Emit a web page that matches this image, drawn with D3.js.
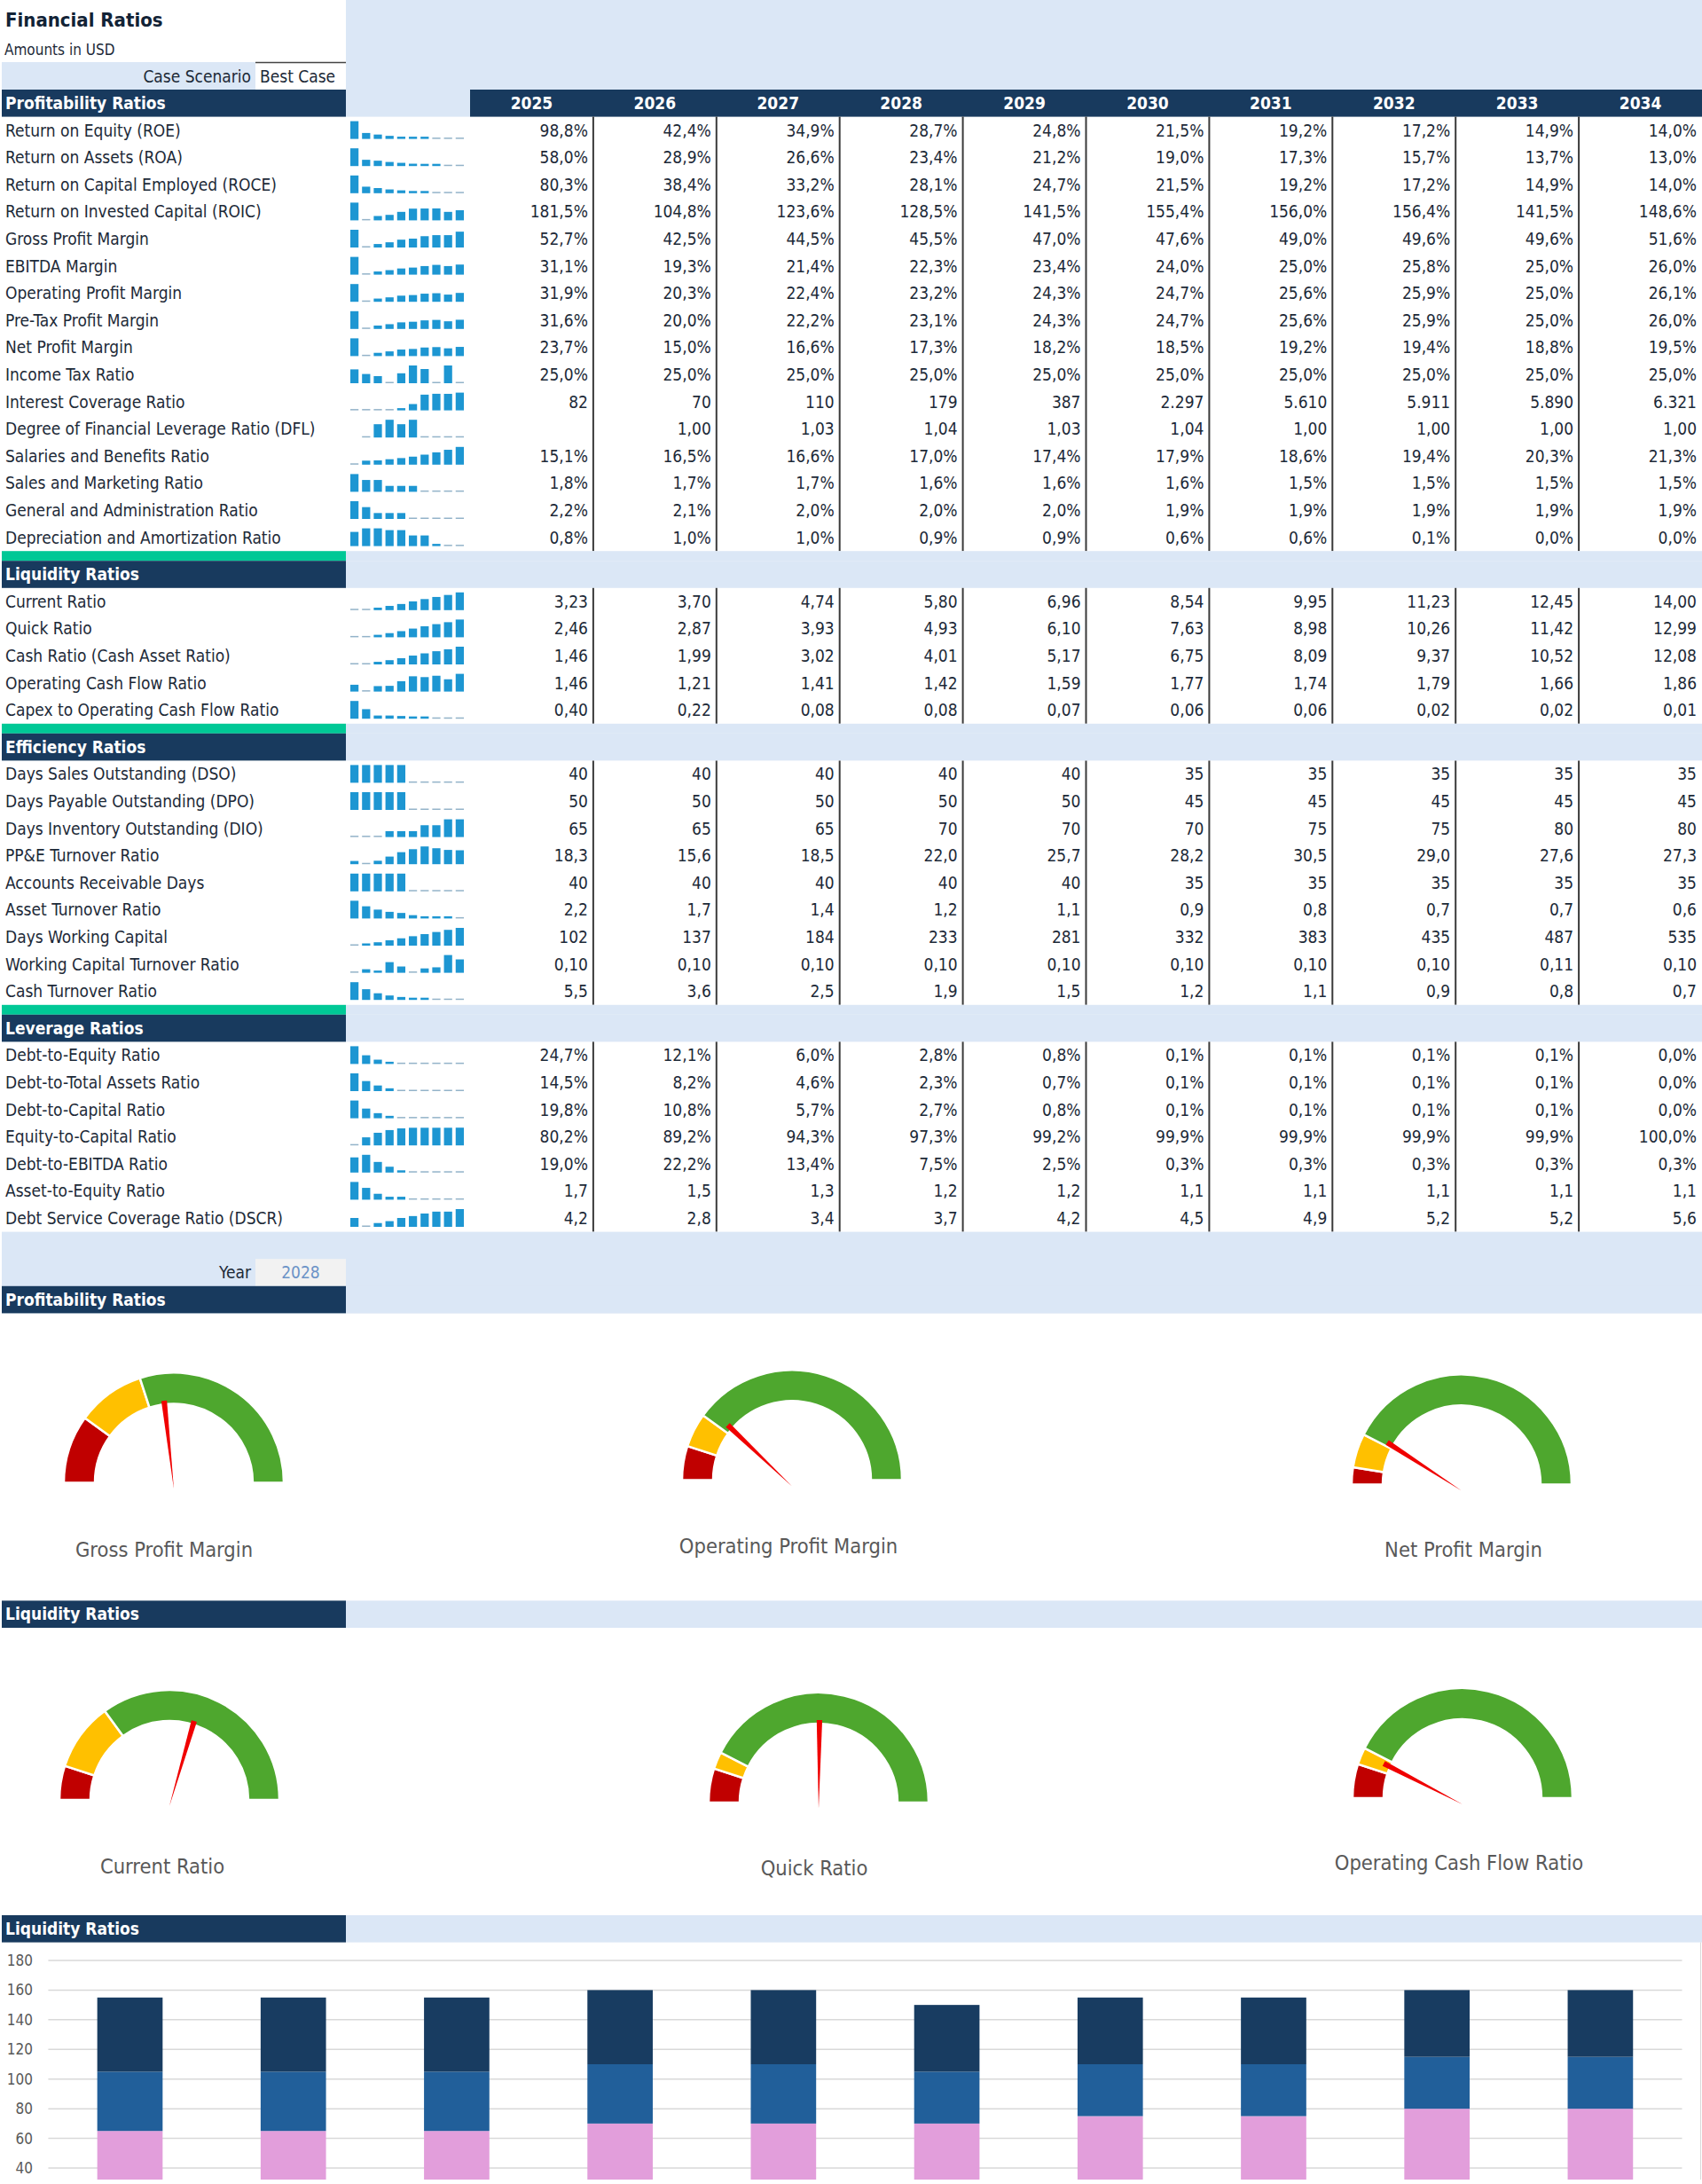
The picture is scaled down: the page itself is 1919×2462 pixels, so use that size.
<!DOCTYPE html>
<html>
<head>
<meta charset="utf-8">
<script src="https://cdn.jsdelivr.net/npm/d3@7"></script>
<style>
  body { margin: 0; background: #fff; overflow: hidden; }
  svg { display: block; font-family: 'Liberation Sans Narrow', 'Arial Narrow', 'DejaVu Sans Condensed', sans-serif; }
</style>
</head>
<body>
<div id="sheet"></div>
<script>
// ---- data ----
var years = [2025, 2026, 2027, 2028, 2029, 2030, 2031, 2032, 2033, 2034];
var selectedYear = 2028;
var caseScenario = "Best Case";

// profitability (percent values unless noted)
var roe = [98.8, 42.4, 34.9, 28.7, 24.8, 21.5, 19.2, 17.2, 14.9, 14.0];
var roa = [58.0, 28.9, 26.6, 23.4, 21.2, 19.0, 17.3, 15.7, 13.7, 13.0];
var roce = [80.3, 38.4, 33.2, 28.1, 24.7, 21.5, 19.2, 17.2, 14.9, 14.0];
var roic = [181.5, 104.8, 123.6, 128.5, 141.5, 155.4, 156.0, 156.4, 141.5, 148.6];
var grossMargin = [52.7, 42.5, 44.5, 45.5, 47.0, 47.6, 49.0, 49.6, 49.6, 51.6];
var ebitdaMargin = [31.1, 19.3, 21.4, 22.3, 23.4, 24.0, 25.0, 25.8, 25.0, 26.0];
var operatingMargin = [31.9, 20.3, 22.4, 23.2, 24.3, 24.7, 25.6, 25.9, 25.0, 26.1];
var preTaxMargin = [31.6, 20.0, 22.2, 23.1, 24.3, 24.7, 25.6, 25.9, 25.0, 26.0];
var netMargin = [23.7, 15.0, 16.6, 17.3, 18.2, 18.5, 19.2, 19.4, 18.8, 19.5];
var incomeTax = [25.029, 25.016, 25.010, 24.991, 25.018, 25.040, 25.030, 24.991, 25.040, 24.990];
var interestCoverage = [82, 70, 110, 179, 387, 2297, 5610, 5911, 5890, 6321];
var dfl = [null, 1.00, 1.03, 1.04, 1.03, 1.04, 1.00, 1.00, 1.00, 1.00];
var salaries = [15.1, 16.5, 16.6, 17.0, 17.4, 17.9, 18.6, 19.4, 20.3, 21.3];
var salesMarketing = [1.8, 1.7, 1.7, 1.6, 1.6, 1.6, 1.5, 1.5, 1.5, 1.5];
var generalAdmin = [2.2, 2.1, 2.0, 2.0, 2.0, 1.9, 1.9, 1.9, 1.9, 1.9];
var deprAmort = [0.8, 1.0, 1.0, 0.9, 0.9, 0.6, 0.6, 0.1, 0.0, 0.0];

// liquidity
var currentRatio = [3.23, 3.70, 4.74, 5.80, 6.96, 8.54, 9.95, 11.23, 12.45, 14.00];
var quickRatio = [2.46, 2.87, 3.93, 4.93, 6.10, 7.63, 8.98, 10.26, 11.42, 12.99];
var cashRatio = [1.46, 1.99, 3.02, 4.01, 5.17, 6.75, 8.09, 9.37, 10.52, 12.08];
var ocfRatio = [1.46, 1.21, 1.41, 1.42, 1.59, 1.77, 1.74, 1.79, 1.66, 1.86];
var capexOcf = [0.40, 0.22, 0.08, 0.08, 0.07, 0.06, 0.06, 0.02, 0.02, 0.01];

// efficiency
var dso = [40, 40, 40, 40, 40, 35, 35, 35, 35, 35];
var dpo = [50, 50, 50, 50, 50, 45, 45, 45, 45, 45];
var dio = [65, 65, 65, 70, 70, 70, 75, 75, 80, 80];
var ppeTurnover = [18.3, 15.6, 18.5, 22.0, 25.7, 28.2, 30.5, 29.0, 27.6, 27.3];
var arDays = [40, 40, 40, 40, 40, 35, 35, 35, 35, 35];
var assetTurnover = [2.2, 1.7, 1.4, 1.2, 1.1, 0.9, 0.8, 0.7, 0.7, 0.6];
var daysWorkingCapital = [102, 137, 184, 233, 281, 332, 383, 435, 487, 535];
var wcTurnover = [0.0992, 0.1003, 0.0994, 0.1029, 0.1013, 0.0990, 0.1006, 0.1010, 0.1055, 0.1039];
var cashTurnover = [5.5, 3.6, 2.5, 1.9, 1.5, 1.2, 1.1, 0.9, 0.8, 0.7];

// leverage
var debtEquity = [24.7, 12.1, 6.0, 2.8, 0.8, 0.1, 0.1, 0.1, 0.1, 0.0];
var debtAssets = [14.5, 8.2, 4.6, 2.3, 0.7, 0.1, 0.1, 0.1, 0.1, 0.0];
var debtCapital = [19.8, 10.8, 5.7, 2.7, 0.8, 0.1, 0.1, 0.1, 0.1, 0.0];
var equityCapital = [80.2, 89.2, 94.3, 97.3, 99.2, 99.9, 99.9, 99.9, 99.9, 100.0];
var debtEbitda = [19.0, 22.2, 13.4, 7.5, 2.5, 0.3, 0.3, 0.3, 0.3, 0.3];
var assetEquity = [1.7, 1.5, 1.3, 1.2, 1.2, 1.1, 1.1, 1.1, 1.1, 1.1];
var dscr = [4.2, 2.8, 3.4, 3.7, 4.2, 4.5, 4.9, 5.2, 5.2, 5.6];

// gauge bands (green to max)
var gaugeNames = ["Gross Profit Margin", "Operating Profit Margin", "Net Profit Margin",
                  "Current Ratio", "Quick Ratio", "Operating Cash Flow Ratio"];
var gaugeSeries = [grossMargin, operatingMargin, netMargin, currentRatio, quickRatio, ocfRatio];
var gaugeBands = [[0, 20, 40, 100], [0, 10, 20, 100], [0, 5, 15, 100],
                  [0, 1, 3, 10], [0, 1, 1.5, 10], [0, 1, 1.5, 10]];

var yTicks = [40, 60, 80, 100, 120, 140, 160, 180];

// ---- tables built from the arrays ----
var sections = [
  { title: "Profitability Ratios", rows: [
    ["Return on Equity (ROE)", roe, "pct"],
    ["Return on Assets (ROA)", roa, "pct"],
    ["Return on Capital Employed (ROCE)", roce, "pct"],
    ["Return on Invested Capital (ROIC)", roic, "pct"],
    ["Gross Profit Margin", grossMargin, "pct"],
    ["EBITDA Margin", ebitdaMargin, "pct"],
    ["Operating Profit Margin", operatingMargin, "pct"],
    ["Pre-Tax Profit Margin", preTaxMargin, "pct"],
    ["Net Profit Margin", netMargin, "pct"],
    ["Income Tax Ratio", incomeTax, "pct"],
    ["Interest Coverage Ratio", interestCoverage, "int"],
    ["Degree of Financial Leverage Ratio (DFL)", dfl, "dec2"],
    ["Salaries and Benefits Ratio", salaries, "pct"],
    ["Sales and Marketing Ratio", salesMarketing, "pct"],
    ["General and Administration Ratio", generalAdmin, "pct"],
    ["Depreciation and Amortization Ratio", deprAmort, "pct"]
  ]},
  { title: "Liquidity Ratios", rows: [
    ["Current Ratio", currentRatio, "dec2"],
    ["Quick Ratio", quickRatio, "dec2"],
    ["Cash Ratio (Cash Asset Ratio)", cashRatio, "dec2"],
    ["Operating Cash Flow Ratio", ocfRatio, "dec2"],
    ["Capex to Operating Cash Flow Ratio", capexOcf, "dec2"]
  ]},
  { title: "Efficiency Ratios", rows: [
    ["Days Sales Outstanding (DSO)", dso, "int"],
    ["Days Payable Outstanding (DPO)", dpo, "int"],
    ["Days Inventory Outstanding (DIO)", dio, "int"],
    ["PP&E Turnover Ratio", ppeTurnover, "dec1"],
    ["Accounts Receivable Days", arDays, "int"],
    ["Asset Turnover Ratio", assetTurnover, "dec1"],
    ["Days Working Capital", daysWorkingCapital, "int"],
    ["Working Capital Turnover Ratio", wcTurnover, "dec2"],
    ["Cash Turnover Ratio", cashTurnover, "dec1"]
  ]},
  { title: "Leverage Ratios", rows: [
    ["Debt-to-Equity Ratio", debtEquity, "pct"],
    ["Debt-to-Total Assets Ratio", debtAssets, "pct"],
    ["Debt-to-Capital Ratio", debtCapital, "pct"],
    ["Equity-to-Capital Ratio", equityCapital, "pct"],
    ["Debt-to-EBITDA Ratio", debtEbitda, "pct"],
    ["Asset-to-Equity Ratio", assetEquity, "dec1"],
    ["Debt Service Coverage Ratio (DSCR)", dscr, "dec1"]
  ]}
];

// ---- look ----
var W = 1919, H = 2462;
var NAVY = "#183a5e", LIGHT = "#dbe7f6", GREEN_BAND = "#00c896", INK = "#1d2a38";
var SPARK = "#1d96d2", SPARK_LIGHT = "#93b3c9";
var ROW = 30.6, SPACER = 11, X0 = 2, LABEL_END = 390, SPARK_END = 530;

var loc = d3.formatLocale({ decimal: ",", thousands: ".", grouping: [3], currency: ["", ""] });
var formats = {
  pct: function (v) { return loc.format(".1f")(v) + "%"; },
  int: loc.format(",.0f"),
  dec1: loc.format(".1f"),
  dec2: loc.format(".2f")
};

var svg = d3.select("#sheet").append("svg").attr("width", W).attr("height", H);

// top block
svg.append("rect").attr("x", LABEL_END).attr("y", 0).attr("width", W - LABEL_END).attr("height", 101).attr("fill", LIGHT);
svg.append("text").attr("x", 6).attr("y", 22).attr("dy", "0.35em")
  .attr("font-size", 22).attr("font-weight", "bold").attr("fill", "#122336").text("Financial Ratios");
svg.append("text").attr("x", 5).attr("y", 56).attr("dy", "0.35em")
  .attr("font-size", 17).attr("fill", INK).text("Amounts in USD");
svg.append("rect").attr("x", X0).attr("y", 70).attr("width", 288 - X0).attr("height", 31).attr("fill", LIGHT);
svg.append("line").attr("x1", 288).attr("x2", LABEL_END).attr("y1", 70.5).attr("y2", 70.5)
  .attr("stroke", "#444").attr("stroke-width", 1.5);
svg.append("text").attr("x", 283).attr("y", 86).attr("dy", "0.35em").attr("text-anchor", "end")
  .attr("font-size", 19).attr("fill", INK).text("Case Scenario");
svg.append("text").attr("x", 293).attr("y", 86).attr("dy", "0.35em")
  .attr("font-size", 19).attr("fill", INK).text(caseScenario);

var xCol = d3.scaleBand().domain(years).range([SPARK_END, W]);
var xSpark = d3.scaleBand().domain(d3.range(years.length)).range([395, 523]).paddingInner(0.3);

function header(y, title, withYears) {
  svg.append("rect").attr("x", X0).attr("y", y).attr("width", LABEL_END - X0).attr("height", ROW).attr("fill", NAVY);
  svg.append("text").attr("x", 6).attr("y", y + ROW / 2).attr("dy", "0.35em")
    .attr("font-size", 19).attr("font-weight", "bold").attr("fill", "#fff").text(title);
  if (withYears) {
    svg.append("rect").attr("x", LABEL_END).attr("y", y).attr("width", SPARK_END - LABEL_END).attr("height", ROW).attr("fill", LIGHT);
    svg.append("rect").attr("x", SPARK_END).attr("y", y).attr("width", W - SPARK_END).attr("height", ROW).attr("fill", NAVY);
    svg.append("g").selectAll("text").data(years).join("text")
      .attr("x", function (d) { return xCol(d) + xCol.bandwidth() / 2; })
      .attr("y", y + ROW / 2).attr("dy", "0.35em").attr("text-anchor", "middle")
      .attr("font-size", 19).attr("font-weight", "bold").attr("fill", "#fff")
      .text(function (d) { return d; });
  } else {
    svg.append("rect").attr("x", LABEL_END).attr("y", y).attr("width", W - LABEL_END).attr("height", ROW).attr("fill", LIGHT);
  }
}

var cy = 101;
sections.forEach(function (sec, k) {
  if (k > 0) {
    svg.append("rect").attr("x", X0).attr("y", cy).attr("width", LABEL_END - X0).attr("height", SPACER).attr("fill", GREEN_BAND);
    svg.append("rect").attr("x", LABEL_END).attr("y", cy).attr("width", W - LABEL_END).attr("height", SPACER).attr("fill", LIGHT);
    cy += SPACER;
  }
  header(cy, sec.title, k === 0);
  cy += ROW;
  var top = cy;
  sec.rows.forEach(function (r, i) {
    var ry = top + i * ROW;
    var g = svg.append("g").attr("transform", "translate(0," + ry + ")");
    g.append("text").attr("x", 6).attr("y", ROW / 2).attr("dy", "0.35em")
      .attr("font-size", 19).attr("fill", INK).text(r[0]);
    // sparkline
    var vals = r[1].map(function (v, j) { return { v: v, j: j }; }).filter(function (d) { return d.v != null; });
    var sy = d3.scaleLinear().domain(d3.extent(vals, function (d) { return d.v; })).range([0, 20]);
    var base = 25;
    g.append("g").selectAll("rect").data(vals).join("rect")
      .attr("x", function (d) { return xSpark(d.j); })
      .attr("width", xSpark.bandwidth())
      .attr("y", function (d) { var h = sy(d.v); return base - (h >= 1 ? Math.max(h, 2.5) : 1.5); })
      .attr("height", function (d) { var h = sy(d.v); return h >= 1 ? Math.max(h, 2.5) : 1.5; })
      .attr("fill", function (d) { return sy(d.v) >= 1 ? SPARK : SPARK_LIGHT; });
    // values
    g.append("g").selectAll("text").data(r[1].map(function (v, j) { return { v: v, y: years[j] }; }))
      .join("text")
      .attr("x", function (d) { return xCol(d.y) + xCol.bandwidth() - 6; })
      .attr("y", ROW / 2).attr("dy", "0.35em").attr("text-anchor", "end")
      .attr("font-size", 19).attr("fill", INK)
      .text(function (d) { return d.v == null ? "" : formats[r[2]](d.v); });
  });
  cy = top + sec.rows.length * ROW;
  svg.append("g").selectAll("line").data(years.slice(0, -1)).join("line")
    .attr("x1", function (d) { return xCol(d) + xCol.bandwidth(); })
    .attr("x2", function (d) { return xCol(d) + xCol.bandwidth(); })
    .attr("y1", top).attr("y2", cy)
    .attr("stroke", "#3a3a3a").attr("stroke-width", 2);
});

// selector band
svg.append("rect").attr("x", X0).attr("y", cy).attr("width", W - X0).attr("height", 3 * ROW).attr("fill", LIGHT);
svg.append("text").attr("x", 283).attr("y", cy + ROW * 1.5).attr("dy", "0.35em").attr("text-anchor", "end")
  .attr("font-size", 19).attr("fill", INK).text("Year");
svg.append("rect").attr("x", 288).attr("y", cy + ROW).attr("width", LABEL_END - 288).attr("height", ROW).attr("fill", "#f2f2f2");
svg.append("text").attr("x", 339).attr("y", cy + ROW * 1.5).attr("dy", "0.35em").attr("text-anchor", "middle")
  .attr("font-size", 19).attr("fill", "#6b93c7").text(selectedYear);
header(cy + 2 * ROW, "Profitability Ratios", false);
cy += 3 * ROW;

// ---- gauges ----
var yearIdx = years.indexOf(selectedYear);
var gaugeLayout = [
  { x: 196, base: 191, lx: 185, ly: 266 }, { x: 893, base: 188, lx: 889, ly: 262 }, { x: 1648, base: 193, lx: 1650, ly: 266 },
  { x: 191, base: 194, lx: 183, ly: 269 }, { x: 923, base: 197, lx: 918, ly: 271 }, { x: 1649, base: 192, lx: 1645, ly: 265 }
];
var BAND_COLORS = ["#c00000", "#ffc000", "#4ea72e"];
var BLOCK = 324;

function gauge(idx, blockTop) {
  var L = gaugeLayout[idx], bands = gaugeBands[idx];
  var max = bands[bands.length - 1];
  var a = d3.scaleLinear().domain([0, max]).range([-Math.PI / 2, Math.PI / 2]);
  var g = svg.append("g").attr("transform", "translate(" + L.x + "," + (blockTop + L.base) + ")");
  var arc = d3.arc().innerRadius(89).outerRadius(124);
  g.selectAll("path.band").data(d3.pairs(bands)).join("path")
    .attr("d", function (d) { return arc({ startAngle: a(d[0]), endAngle: a(d[1]) }); })
    .attr("fill", function (d, i) { return BAND_COLORS[i]; })
    .attr("stroke", "#fff").attr("stroke-width", 2.5);
  var v = gaugeSeries[idx][yearIdx];
  var needle = d3.arc().innerRadius(0).outerRadius(100);
  g.append("path").attr("transform", "translate(0,7)")
    .attr("d", needle({ startAngle: a(v), endAngle: a(v + max * 0.02) }))
    .attr("fill", "#f00000");
  svg.append("text").attr("x", L.lx).attr("y", blockTop + L.ly).attr("dy", "0.35em").attr("text-anchor", "middle")
    .attr("font-size", 23.5).attr("fill", "#595959").text(gaugeNames[idx]);
}
[0, 1, 2].forEach(function (i) { gauge(i, cy); });
cy += BLOCK;
header(cy, "Liquidity Ratios", false);
cy += ROW;
[3, 4, 5].forEach(function (i) { gauge(i, cy); });
cy += BLOCK;
header(cy, "Liquidity Ratios", false);
cy += ROW;

// ---- stacked columns: DIO / DSO / DPO ----
var chartTop = 2210, clipBottom = 2457;
var yBar = d3.scaleLinear().domain([0, 180]).range([chartTop + 180 * (234 / 140), chartTop]);
var xBar = d3.scaleBand().domain(years).range([54.4, 1896.5]).paddingInner(0.6).paddingOuter(0.3);
var table = years.map(function (y, i) { return { year: y, dio: dio[i], dso: dso[i], dpo: dpo[i] }; });
var stack = d3.stack().keys(["dio", "dso", "dpo"])(table);
var barColors = { dio: "#e29edb", dso: "#215f9a", dpo: "#183c61" };

svg.append("defs").append("clipPath").attr("id", "plotclip")
  .append("rect").attr("x", 0).attr("y", cy).attr("width", W).attr("height", clipBottom - cy);

var chart = svg.append("g").attr("clip-path", "url(#plotclip)");
chart.append("g").selectAll("line").data(yTicks).join("line")
  .attr("x1", 54.4).attr("x2", 1896.5)
  .attr("y1", function (d) { return yBar(d); }).attr("y2", function (d) { return yBar(d); })
  .attr("stroke", "#d9d9d9").attr("stroke-width", 1.5);
chart.append("g").selectAll("g").data(stack).join("g")
  .attr("fill", function (s) { return barColors[s.key]; })
  .selectAll("rect").data(function (s) { return s; }).join("rect")
  .attr("x", function (d) { return xBar(d.data.year); })
  .attr("width", xBar.bandwidth())
  .attr("y", function (d) { return yBar(d[1]); })
  .attr("height", function (d) { return yBar(d[0]) - yBar(d[1]); });

svg.append("g").selectAll("text").data(yTicks).join("text")
  .attr("x", 37).attr("y", function (d) { return yBar(d); }).attr("dy", "0.35em").attr("text-anchor", "end")
  .attr("font-size", 17).attr("fill", "#595959").text(function (d) { return d; });
svg.append("line").attr("x1", 1917.5).attr("x2", 1917.5).attr("y1", cy).attr("y2", clipBottom)
  .attr("stroke", "#d9d9d9").attr("stroke-width", 1);
</script>
</body>
</html>
